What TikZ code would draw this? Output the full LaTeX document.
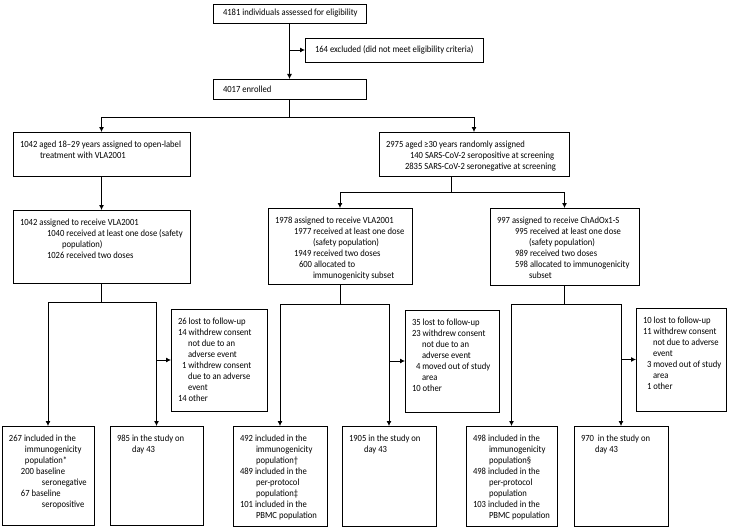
\documentclass[tikz,border=0pt]{standalone}
\usepackage{fontspec}
\setmainfont{Carlito}[FakeStretch=0.915]
\usepackage{tikz}
\usetikzlibrary{positioning}
\usetikzlibrary{calc}
\usetikzlibrary{arrows.meta}

\newcommand{\ti}[1]{\hspace*{#1pt}}
\newcommand{\boxtext}[3]{\parbox[t][#2pt][t]{#1pt}{\begin{tabular}[t]{@{}l@{}}#3\end{tabular}}}

\begin{document}
\begin{tikzpicture}[
    x=1pt, y=-1pt,                          % work in reference pixels, y going down
    font=\fontsize{9.4}{11}\selectfont,
    ]
% -------------------------------------------------
\tikzset{
  base/.style={draw, line width=0.8pt, anchor=north west, outer sep=0pt},
  single/.style={base, inner xsep=10pt, inner ysep=0pt},
  box/.style={base, inner xsep=7pt, inner ysep=7.5pt},
  line/.style={draw, line width=0.8pt, -{Latex[length=5pt, width=5pt]}}
}
\useasboundingbox (0,0) rectangle (731,527);

% top of the flow
\node [single, minimum height=19pt] (elig) at (213,4) {\makebox[133pt][l]{4181 individuals assessed for eligibility}};
\node [single, minimum height=24pt] (excl) at (305,38) {\makebox[158pt][l]{164 excluded (did not meet eligibility criteria)}};
\node [single, minimum height=20pt] (enr) at (213,79) {\makebox[133pt][l]{4017 enrolled}};

% age groups
\node [box] (g18) at (13,132) {\boxtext{163}{29}{1042 aged 18--29 years assigned to open-label\\
  \ti{20}treatment with VLA2001}};
\node [box] (g30) at (379,132) {\boxtext{176}{29}{2975 aged ≥30 years randomly assigned\\
  \ti{24}140 SARS-CoV-2 seropositive at screening\\
  \ti{19}2835 SARS-CoV-2 seronegative at screening}};

% allocation
\node [box] (vla18) at (13,210) {\boxtext{163}{58}{1042 assigned to receive VLA2001\\
  \ti{27}1040 received at least one dose (safety\\
  \ti{42}population)\\
  \ti{27}1026 received two doses}};
\node [box] (vla30) at (268,208) {\boxtext{130}{61}{1978 assigned to receive VLA2001\\
  \ti{19}1977 received at least one dose\\
  \ti{38}(safety population)\\
  \ti{19}1949 received two doses\\
  \ti{24}600 allocated to\\
  \ti{38}immunogenicity subset}};
\node [box] (chad) at (490,208) {\boxtext{135}{62}{997 assigned to receive ChAdOx1-S\\
  \ti{18}995 received at least one dose\\
  \ti{32}(safety population)\\
  \ti{18}989 received two doses\\
  \ti{18}598 allocated to immunogenicity\\
  \ti{32}subset}};

% discontinued
\node [box] (lost18) at (171,309) {\boxtext{82}{87}{26 lost to follow-up\\
  14 withdrew consent\\
  \ti{10}not due to an\\
  \ti{10}adverse event\\
  \ti{4}1 withdrew consent\\
  \ti{10}due to an adverse\\
  \ti{10}event\\
  14 other}};
\node [box] (lost30) at (405,310) {\boxtext{80}{87}{35 lost to follow-up\\
  23 withdrew consent\\
  \ti{10}not due to an\\
  \ti{10}adverse event\\
  \ti{4}4 moved out of study\\
  \ti{10}area\\
  10 other}};
\node [box] (lostc) at (636,308) {\boxtext{76}{88}{10 lost to follow-up\\
  11 withdrew consent\\
  \ti{10}not due to adverse\\
  \ti{10}event\\
  \ti{4}3 moved out of study\\
  \ti{10}area\\
  \ti{4}1 other}};

% analysis populations
\node [box] (imm18) at (2,426) {\boxtext{78}{84}{267 included in the\\
  \ti{16}immunogenicity\\
  \ti{16}population*\\
  \ti{12}200 baseline\\
  \ti{33}seronegative\\
  \ti{12}67 baseline\\
  \ti{33}seropositive}};
\node [box] (day18) at (110,426) {\boxtext{79}{84}{985 in the study on\\
  \ti{15}day 43}};
\node [box] (imm30) at (233,426) {\boxtext{80}{85}{492 included in the\\
  \ti{16}immunogenicity\\
  \ti{16}population†\\
  489 included in the\\
  \ti{16}per-protocol\\
  \ti{16}population‡\\
  101 included in the\\
  \ti{16}PBMC population}};
\node [box] (day30) at (342,426) {\boxtext{80}{85}{1905 in the study on\\
  \ti{15}day 43}};
\node [box] (immc) at (466,426) {\boxtext{77}{85}{498 included in the\\
  \ti{16}immunogenicity\\
  \ti{16}population§\\
  498 included in the\\
  \ti{16}per-protocol\\
  \ti{16}population\\
  103 included in the\\
  \ti{16}PBMC population}};
\node [box] (dayc) at (574,426) {\boxtext{80}{85}{970\ \ in the study on\\
  \ti{14}day 43}};

% connectors
\path [line] (elig.south) -- (elig.south |- enr.north);
\path [line] (elig.south |- excl.west) -- (excl.west);

\draw [line width=0.8pt] (enr.south) -- ++(0,18) coordinate (split0);
\path [line] (split0) -| (g18.north);
\path [line] (split0) -| (g30.north);

\path [line] (g18.south) -- (vla18.north);
\draw [line width=0.8pt] ([xshift=-23pt]g30.south) -- ++(0,16) coordinate (split30);
\path [line] (split30) -| (vla30.north);
\path [line] (split30) -| (chad.north);

\draw [line width=0.8pt] (vla18.south) -- ++(0,19) coordinate (split18);
\path [line] (split18) -| (imm18.north);
\path [line] (split18) -| (day18.north);
\path [line] (day18.north |- lost18.west) -- (lost18.west);

\draw [line width=0.8pt] (vla30.south) -- ++(0,20) coordinate (splitv);
\path [line] (splitv) -| (imm30.north);
\path [line] (splitv) -| (day30.north);
\path [line] (day30.north |- lost30.west) -- (lost30.west);

\draw [line width=0.8pt] (chad.south) -- ++(0,19) coordinate (splitc);
\path [line] (splitc) -| (immc.north);
\path [line] (splitc) -| (dayc.north);
\path [line] (dayc.north |- lostc.west) -- (lostc.west);

\end{tikzpicture}
\end{document}
